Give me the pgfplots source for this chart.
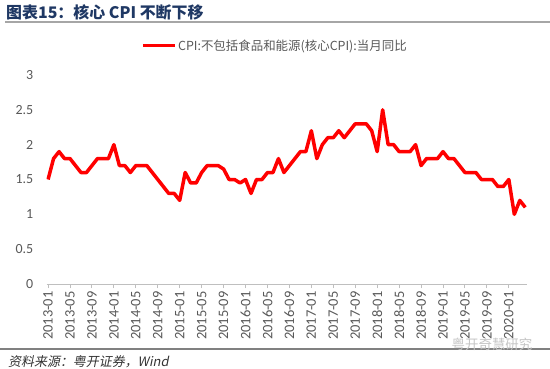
\documentclass[border=0pt]{standalone}
\usepackage{fontspec}
\usepackage{pgfplots}
\usepackage{pgfplotstable}
\pgfplotsset{compat=1.18}
\setmainfont{Carlito}
\newfontfamily\cjk{Noto Sans CJK SC}
\newfontfamily\cjkit[FakeSlant=0.2]{Noto Sans CJK SC}
\definecolor{titleblue}{RGB}{31,56,100}
\definecolor{txtgray}{RGB}{89,89,89}
\definecolor{axgray}{RGB}{191,191,191}
\pgfplotstableread{
m v
0 1.5
1 1.8
2 1.9
3 1.8
4 1.8
5 1.7
6 1.6
7 1.6
8 1.7
9 1.8
10 1.8
11 1.8
12 2.0
13 1.7
14 1.7
15 1.6
16 1.7
17 1.7
18 1.7
19 1.6
20 1.5
21 1.4
22 1.3
23 1.3
24 1.2
25 1.6
26 1.45
27 1.45
28 1.6
29 1.7
30 1.7
31 1.7
32 1.65
33 1.5
34 1.5
35 1.45
36 1.5
37 1.3
38 1.5
39 1.5
40 1.6
41 1.6
42 1.8
43 1.6
44 1.7
45 1.8
46 1.9
47 1.9
48 2.2
49 1.8
50 2.0
51 2.1
52 2.1
53 2.2
54 2.1
55 2.2
56 2.3
57 2.3
58 2.3
59 2.2
60 1.9
61 2.5
62 2.0
63 2.0
64 1.9
65 1.9
66 1.9
67 2.0
68 1.7
69 1.8
70 1.8
71 1.8
72 1.9
73 1.8
74 1.8
75 1.7
76 1.6
77 1.6
78 1.6
79 1.5
80 1.5
81 1.5
82 1.4
83 1.4
84 1.5
85 1.0
86 1.2
87 1.1
}\cpidata
\begin{document}
\begin{tikzpicture}
\useasboundingbox[fill=white] (0,0) rectangle (550bp,-369bp);
\node[anchor=base west, inner sep=0pt, text=titleblue] at (6bp,-18bp) {\cjk\bfseries\fontsize{16}{18}\selectfont 图表15：核心 CPI 不断下移};
\draw[gray!70, line width=1.5bp] (5bp,-22bp) -- (550bp,-22bp);
\begin{axis}[
  scale only axis,
  width=480.5bp, height=209bp,
  at={(46.7bp,-284bp)}, anchor=south west,
  xmin=-0.25, xmax=87.35,
  ymin=0, ymax=3,
  ytick={0,0.5,...,3},
  xtick={0,4,...,84},
  xticklabels={2013-01,2013-05,2013-09,2014-01,2014-05,2014-09,2015-01,2015-05,2015-09,2016-01,2016-05,2016-09,2017-01,2017-05,2017-09,2018-01,2018-05,2018-09,2019-01,2019-05,2019-09,2020-01},
  axis x line*=bottom,
  axis y line*=left,
  x axis line style={-, draw=axgray, line width=1bp},
  y axis line style={draw=none},
  xtick style={draw=axgray, line width=1bp},
  ytick style={draw=none},
  tick align=outside,
  major tick length=4bp,
  /pgf/number format/assume math mode=true,
  ticklabel style={text=txtgray},
  xticklabel style={rotate=90, anchor=east, font=\fontsize{14.5}{16}\selectfont, xshift=0bp},
  yticklabel style={xshift=-6bp, font=\fontsize{14}{16}\selectfont},
  legend style={draw=none, fill=none, at={(0.196,1.14)}, anchor=west, inner sep=0pt,
    font=\cjk\fontsize{12.5}{14}\selectfont, text=txtgray, nodes={inner sep=1.5bp}},
  legend image code/.code={\draw[red, line width=3.5bp] (0bp,0bp) -- (32bp,0bp);},
]
\addplot[color=red, line width=3.5bp, line join=round] table[x=m, y=v] {\cpidata};
\addlegendentry{CPI:不包括食品和能源(核心CPI):当月同比}
\end{axis}
\draw[gray, line width=1.5bp] (0,-349bp) -- (550bp,-349bp);
\node[anchor=base west, inner sep=0pt, text=black!80] at (8bp,-366bp) {\cjkit\fontsize{13}{15}\selectfont 资料来源：粤开证券，Wind};
\node[text=gray!45] at (492bp,-344bp) {\cjk\fontsize{13.5}{15}\selectfont 粤开奇慧研究};
\end{tikzpicture}
\end{document}
